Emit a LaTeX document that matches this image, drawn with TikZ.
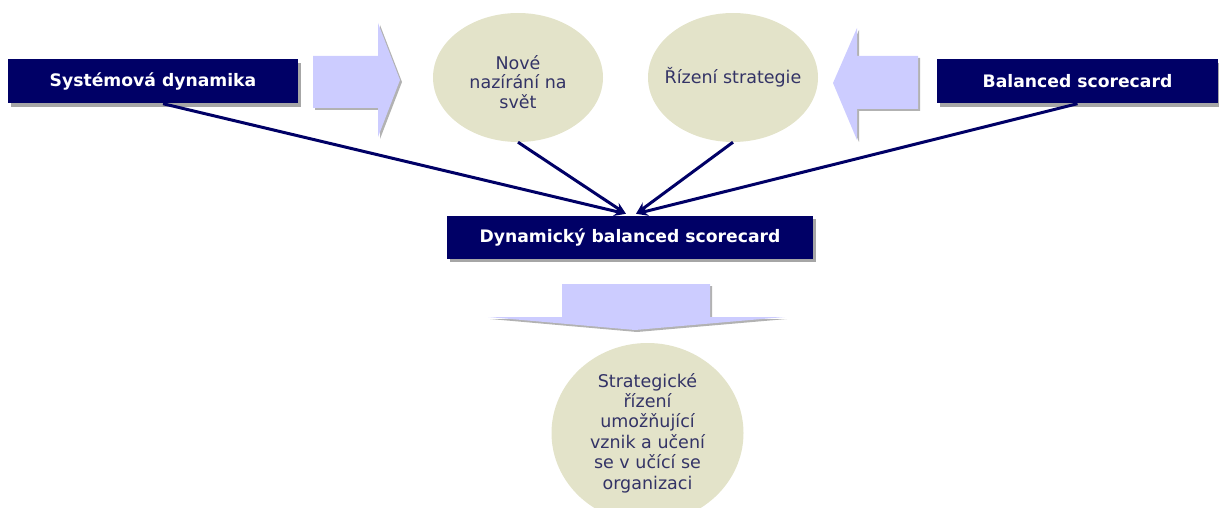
\documentclass[tikz,border=0pt]{standalone}
\usepackage{fontspec}
\setmainfont{DejaVu Sans}
\usetikzlibrary{calc,arrows.meta,shapes.geometric}
\definecolor{navy}{HTML}{000066}
\definecolor{lilac}{HTML}{CCCCFF}
\definecolor{sand}{HTML}{E3E3C9}
\definecolor{inktext}{HTML}{333366}
\tikzset{
  titlebox/.style={fill=navy, text=white, font=\bfseries\fontsize{17.2}{20}\selectfont,
    inner sep=0pt},
  boxshadow/.style={fill=black!35},
  oval/.style={ellipse, fill=sand, text=inktext, align=center, inner xsep=-30pt, inner ysep=0pt,
    font=\fontsize{17.5}{19.5}\selectfont},
  ovaltext/.style={text=inktext, align=center, inner sep=0pt, font=\fontsize{17.5}{19.5}\selectfont},
  link/.style={draw=navy, line width=3pt, -{Stealth[length=12pt,width=10pt]}},
  bigarrow/.style={fill=lilac},
  arrowshadow/.style={fill=black!30},
}
\begin{document}
\begin{tikzpicture}[x=1pt,y=-1pt]
\useasboundingbox (0,0) rectangle (1219,508);

% shadows behind the dark title boxes
\fill[boxshadow] (11,63) rectangle (301,107);
\fill[boxshadow] (940,63) rectangle (1221,107);
\fill[boxshadow] (450,219) rectangle (816,262);

% dark title boxes
\node[titlebox, minimum width=290pt, minimum height=44pt] (sd) at (153,81.5) {Systémová dynamika};
\node[titlebox, minimum width=281pt, minimum height=44pt] (bsc) at (1077.5,81.5) {Balanced scorecard};
\node[titlebox, minimum width=366pt, minimum height=43pt] (dbsc) at (630,237.5) {Dynamický balanced scorecard};

% right-pointing block arrow
\fill[arrowshadow] (315,58) -- (380,58) -- (380,25) -- (402,82) -- (380,139) -- (380,110) -- (315,110) -- cycle;
\fill[bigarrow] (313,56) -- (378,56) -- (378,23) -- (400,80) -- (378,137) -- (378,108) -- (313,108) -- cycle;

% left-pointing block arrow
\fill[arrowshadow] (920,58) -- (859,58) -- (859,30) -- (835,85) -- (859,142) -- (859,111) -- (920,111) -- cycle;
\fill[bigarrow] (918,56) -- (857,56) -- (857,28) -- (833,83) -- (857,140) -- (857,109) -- (918,109) -- cycle;

% downward block arrow
\fill[arrowshadow] (564,286) -- (712,286) -- (712,319) -- (787,319) -- (637,332) -- (490,319) -- (564,319) -- cycle;
\fill[bigarrow] (562,284) -- (710,284) -- (710,317) -- (785,317) -- (635,330) -- (488,317) -- (562,317) -- cycle;

% ellipses
\node[oval, minimum width=170pt, minimum height=129pt] (nv) at (518,77.5) {};
\node[ovaltext] (nvtext) at (518,82) {Nové\\nazírání na\\svět};
\node[oval, minimum width=170pt, minimum height=129pt] (rs) at (733,77.5) {Řízení strategie};
\node[oval, minimum width=192pt, minimum height=180pt, font=\fontsize{17.5}{20.4}\selectfont] (sr) at (647.5,433)
  {Strategické\\řízení\\umožňující\\vznik a učení\\se v učící se\\organizaci};

% connectors into the central box
\coordinate (inL) at ($(dbsc.north)+(-4,-2)$);
\coordinate (inR) at ($(dbsc.north)+(6,-2)$);
\draw[link] ($(sd.south)+(10,0)$) -- (inL);
\draw[link] (nv.south) -- (inL);
\draw[link] (rs.south) -- (inR);
\draw[link] (bsc.south) -- (inR);
\end{tikzpicture}
\end{document}
